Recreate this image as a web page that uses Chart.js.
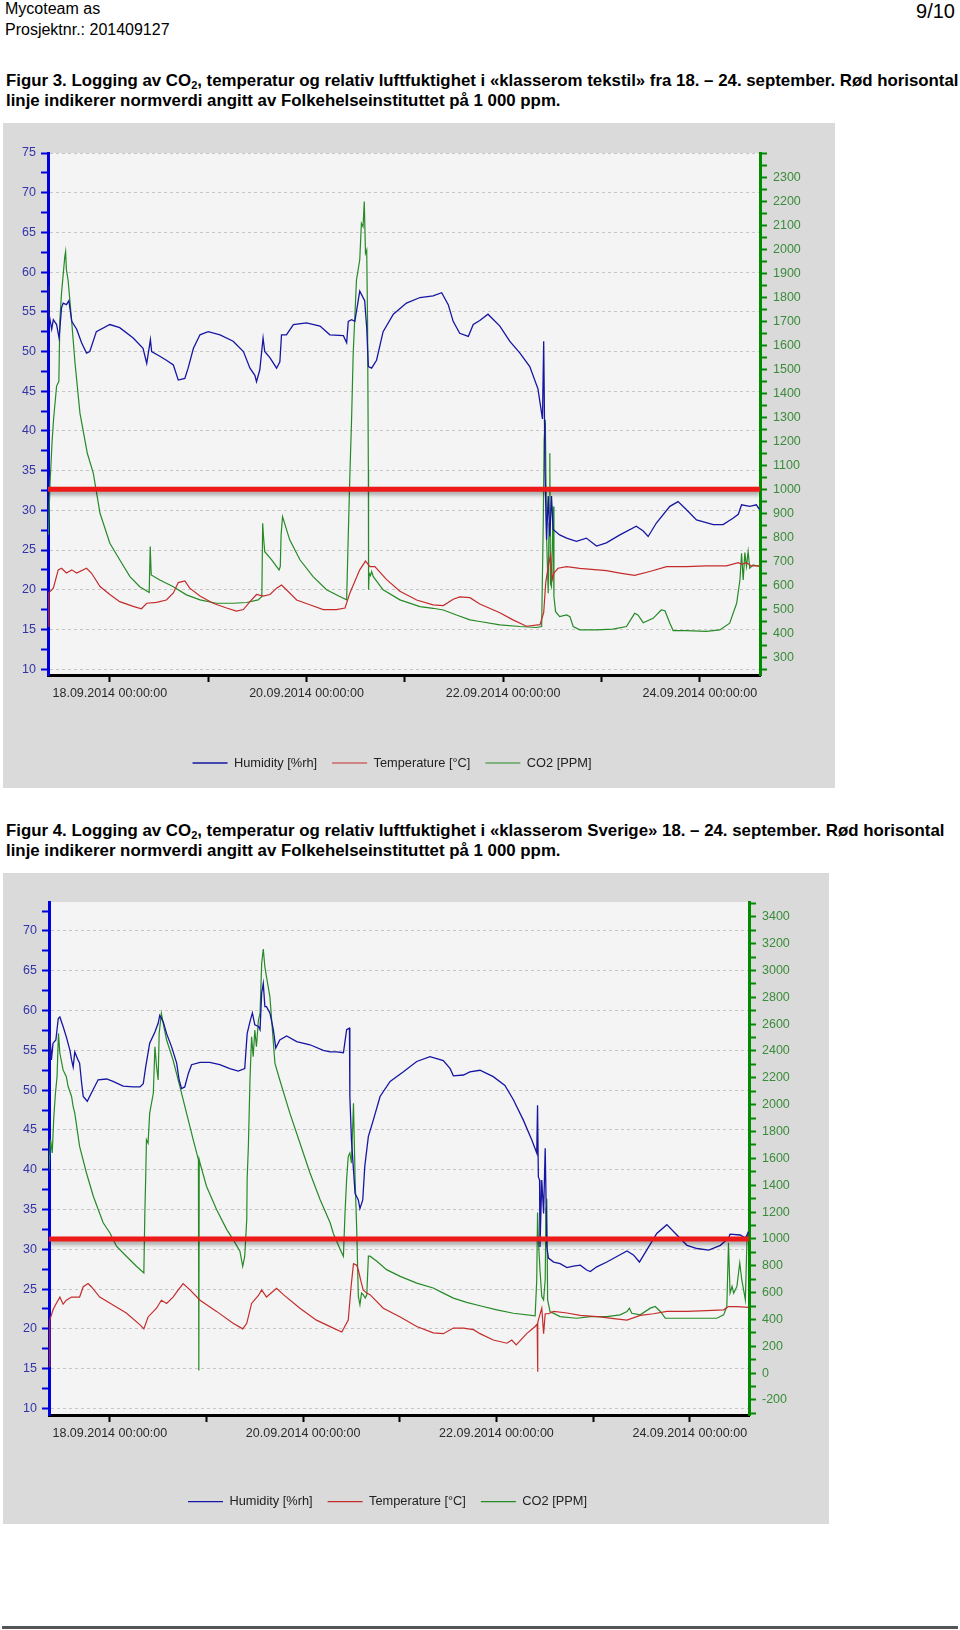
<!DOCTYPE html>
<html>
<head>
<meta charset="utf-8">
<script src="https://cdn.jsdelivr.net/npm/chart.js@4.4.0/dist/chart.umd.min.js"></script>
<style>
body { margin:0; width:960px; height:1630px; position:relative; background:#fff; font-family:"Liberation Sans", Arial, sans-serif; color:#000; }
.hdr { position:absolute; left:5px; font-size:16px; line-height:18px; white-space:nowrap; }
.pg { position:absolute; right:5px; top:0; font-size:20px; line-height:22px; }
.cap { position:absolute; left:6px; font-weight:bold; font-size:16.83px; line-height:20px; white-space:nowrap; }
.cap sub { font-size:11px; vertical-align:-3px; line-height:0; }
.box { position:absolute; left:3px; background:#dadada; }
.box canvas { display:block; }
.foot { position:absolute; left:2px; top:1626px; width:956px; height:3px; background:#555; }
</style>
</head>
<body>
<div class="hdr" style="top:0">Mycoteam as</div>
<div class="hdr" style="top:21px">Prosjektnr.: 201409127</div>
<div class="pg">9/10</div>

<div class="cap" style="top:71px">Figur 3. Logging av CO<sub>2</sub>, temperatur og relativ luftfuktighet i «klasserom tekstil» fra 18. – 24. september. Rød horisontal<br>linje indikerer normverdi angitt av Folkehelseinstituttet på 1 000 ppm.</div>
<div class="box" style="top:123px;width:832px;height:665px"><canvas id="chart1" width="832" height="665"></canvas></div>

<div class="cap" style="top:821px">Figur 4. Logging av CO<sub>2</sub>, temperatur og relativ luftfuktighet i «klasserom Sverige» 18. – 24. september. Rød horisontal<br>linje indikerer normverdi angitt av Folkehelseinstituttet på 1 000 ppm.</div>
<div class="box" style="top:873px;width:826px;height:651px"><canvas id="chart2" width="826" height="651"></canvas></div>

<div class="foot"></div>

<script>
// hours after 18.09.2014 00:00:00
const xMin = -15.1, xMax = 158.7;
const xTickHours = [0, 24, 48, 72, 96, 120, 144];
const xTickLabels = ['18.09.2014 00:00:00', '', '20.09.2014 00:00:00', '', '22.09.2014 00:00:00', '', '24.09.2014 00:00:00'];
const normPpm = 1000;

// Figur 3 - klasserom tekstil  [hour, value]
const c1Humidity = [[-15.1,58.3],[-14.9,54.9],[-14.2,52.8],[-13.8,54.0],[-13.0,53.4],[-12.4,51.7],[-11.8,55.5],[-11.4,56.1],[-10.6,55.9],[-10.0,56.4],[-9.3,53.8],[-8.1,52.8],[-6.9,51.1],[-5.7,49.8],[-4.9,50.0],[-3.3,52.5],[0,53.4],[2.4,53.0],[5.7,51.7],[8.1,50.4],[9.0,48.5],[9.9,51.5],[10.2,50.0],[12.2,49.4],[13.8,48.9],[15.5,48.3],[16.7,46.4],[18.3,46.6],[19.1,47.9],[20.4,50.4],[22.0,52.1],[24.0,52.5],[26.9,52.1],[30.1,51.3],[32.6,50.0],[34.2,47.9],[35.4,47.0],[35.8,46.2],[36.6,47.7],[37.4,51.7],[37.8,50.0],[39.1,49.2],[40.7,47.9],[41.5,48.7],[41.9,52.1],[43.1,52.1],[44.8,53.4],[48.0,53.6],[51.3,53.2],[53.7,52.1],[57.0,52.0],[57.8,51.1],[58.2,53.8],[59.0,54.0],[59.8,53.8],[61.0,57.6],[62.2,56.4],[62.7,53.0],[63.1,48.1],[63.9,47.9],[65.1,48.9],[66.7,52.5],[69.2,54.7],[72.4,56.1],[75.7,56.8],[78.9,57.0],[81.0,57.4],[82.6,55.9],[83.8,53.8],[85.4,52.3],[87.5,51.9],[88.7,53.4],[90.3,53.9],[92.3,54.7],[95.2,53.2],[97.6,51.3],[100.1,49.8],[102.5,48.1],[104.5,45.3],[105.6,41.5],[105.9,51.3],[106.1,41.0],[106.2,35.3],[106.6,26.3],[107.0,31.8],[107.4,26.7],[107.8,31.8],[108.2,27.6],[109.8,26.9],[111.5,26.5],[113.9,26.1],[116.3,26.5],[118.8,25.5],[121.2,25.9],[124.5,26.9],[128.5,28.0],[130.2,27.4],[131.4,26.7],[133.4,28.4],[136.7,30.5],[138.7,31.1],[140.7,30.1],[143.2,28.8],[147.3,28.2],[149.7,28.2],[152.1,29.0],[153.4,29.5],[154.2,30.7],[156.2,30.5],[157.8,30.7],[158.6,30.1]];
const c1Temperature = [[-15.1,15.4],[-14.9,19.6],[-13.8,20.2],[-12.6,22.5],[-11.8,22.7],[-10.6,22.1],[-9.3,22.5],[-8.1,22.1],[-5.7,22.7],[-4.5,22.1],[-2.4,20.4],[0,19.4],[2.4,18.5],[5.7,17.9],[7.7,17.6],[9.0,18.3],[11.4,18.4],[13.8,18.7],[15.5,19.6],[16.7,20.9],[18.3,21.1],[19.5,20.2],[22.0,19.2],[25.2,18.3],[28.5,17.7],[30.9,17.3],[32.6,17.5],[34.2,18.5],[35.8,19.4],[37.4,19.2],[39.1,19.4],[40.7,20.2],[41.9,20.6],[43.1,20.0],[45.6,18.7],[48.8,18.1],[52.1,17.5],[55.3,17.5],[57.4,17.7],[58.6,19.6],[61.0,22.5],[62.4,23.6],[63.5,22.9],[64.7,22.9],[67.5,21.3],[70.8,19.8],[74.9,18.7],[78.9,18.1],[81.4,18.0],[83.8,18.8],[85.4,19.1],[87.9,19.0],[90.3,18.2],[95.2,17.1],[98.4,16.2],[101.7,15.4],[105.0,15.6],[105.9,17.1],[106.4,20.9],[107.0,22.9],[107.6,24.4],[108.0,21.3],[108.4,22.1],[109.4,22.7],[111.5,22.9],[114.7,22.7],[121.2,22.4],[124.5,22.1],[128.1,21.8],[131.8,22.3],[135.9,22.9],[140.7,22.9],[145.6,23.0],[150.5,23.0],[153.4,23.4],[154.2,23.2],[155.4,23.4],[156.6,23.0],[158.6,23.0]];
const c1Co2 = [[-15.0,810],[-14.6,1025],[-14.1,1200],[-13.7,1300],[-13.0,1430],[-12.45,1450],[-12.2,1706],[-11.8,1817],[-11.0,1969],[-10.8,1990],[-10.6,1914],[-10.2,1872],[-9.35,1706],[-8.5,1525],[-7.3,1317],[-5.5,1150],[-4.05,1067],[-2.4,900],[0,775],[2.4,706],[4.9,636],[7.3,594],[9.6,570],[9.85,761],[10.1,643],[12.2,622],[15.5,594],[18.7,560],[22.0,539],[26.0,525],[30.1,525],[33.4,528],[36.2,539],[37.1,553],[37.3,858],[37.5,803],[37.8,740],[39.5,706],[41.3,664],[41.6,678],[41.8,810],[42.15,886],[43.9,789],[46.4,706],[49.6,636],[52.9,581],[56.1,553],[57.8,539],[58.2,810],[58.6,1067],[59.0,1289],[59.4,1567],[60.2,1872],[61.0,1956],[61.4,2108],[61.8,2094],[62.1,2199],[62.4,1983],[62.7,1997],[62.9,1706],[63.1,1080],[63.15,581],[63.3,650],[63.6,640],[63.9,657],[64.3,636],[66.7,581],[70.8,539],[75.7,511],[78.9,504],[81.4,497],[84.6,476],[87.9,456],[90.3,449],[95.2,435],[100.1,428],[104.1,424],[105.4,428],[105.8,865],[106.0,1205],[106.3,1289],[106.6,803],[107.0,567],[107.2,858],[107.4,1150],[107.55,608],[107.8,594],[108.2,928],[108.4,553],[108.8,490],[109.8,469],[111.5,476],[112.3,469],[113.1,428],[114.7,414],[118.8,414],[122.8,417],[126.1,428],[128.1,483],[128.9,476],[130.2,444],[132.6,462],[134.6,497],[135.5,494],[136.7,442],[137.5,411],[140.7,411],[145.6,408],[148.9,414],[151.3,442],[153.0,525],[153.8,622],[154.2,733],[154.6,622],[155.0,736],[155.4,678],[155.8,740],[156.2,671],[157.0,685],[158.6,678]];

// Figur 4 - klasserom Sverige  [hour, value]
const c2Humidity = [[-15.1,54.2],[-14.9,57.1],[-14.5,53.8],[-14.1,55.9],[-13.4,56.3],[-12.8,59.0],[-12.4,59.2],[-11.6,58.0],[-10.8,56.7],[-9.9,55.0],[-9.5,53.8],[-9.1,52.9],[-8.7,54.8],[-7.9,53.8],[-7.5,53.4],[-7.0,50.9],[-6.6,49.2],[-5.6,48.6],[-4.6,49.6],[-2.9,51.3],[-0.8,51.4],[0.8,51.1],[3.3,50.5],[5.8,50.4],[7.5,50.4],[8.3,50.8],[8.9,52.9],[9.9,55.9],[11.2,57.3],[12.0,58.4],[12.4,59.4],[13.25,58.6],[14.1,57.1],[15.3,55.5],[16.6,53.4],[17.2,51.3],[17.8,50.2],[18.6,50.4],[19.5,52.1],[20.3,53.2],[22.4,53.5],[24.8,53.5],[27.3,53.2],[29.8,52.7],[31.9,52.4],[33.5,52.7],[34.1,57.1],[34.8,58.6],[35.4,59.7],[36.0,58.2],[36.9,58.0],[37.3,57.6],[37.7,62.2],[38.1,63.4],[38.5,60.5],[38.9,60.5],[39.75,59.7],[40.6,57.6],[41.2,55.3],[42.2,56.3],[43.9,56.8],[46.4,56.1],[49.7,55.7],[53.0,55.0],[54.7,54.8],[56.3,54.8],[58.0,54.7],[58.8,57.6],[59.5,57.8],[59.6,49.2],[60.0,43.7],[60.5,40.0],[60.9,37.0],[61.7,36.2],[62.1,35.1],[62.8,36.2],[63.3,40.4],[64.2,44.2],[65.4,46.2],[67.1,49.2],[69.6,51.1],[72.9,52.3],[76.2,53.6],[79.5,54.2],[82.8,53.7],[84.5,52.7],[85.3,51.8],[87.8,51.9],[89.4,52.3],[91.9,52.5],[95.2,51.7],[98.1,50.6],[100.2,48.8],[102.7,46.2],[104.8,43.7],[106.0,42.1],[106.2,48.1],[106.4,39.1],[106.7,38.7],[106.8,30.3],[107.25,38.7],[107.7,34.5],[108.1,42.7],[108.5,30.3],[108.9,28.9],[110.2,28.4],[111.8,28.2],[113.5,27.7],[115.1,27.9],[116.8,28.0],[118.4,27.4],[119.3,27.2],[120.9,27.8],[123.4,28.4],[125.9,29.1],[128.4,29.8],[130.0,29.3],[131.5,28.4],[133.3,29.9],[135.8,32.0],[138.3,33.1],[140.8,31.8],[143.3,30.5],[145.8,30.1],[148.7,29.9],[151.6,30.5],[153.6,31.4],[154.0,31.9],[156.5,31.8],[157.8,31.4],[158.6,32.2]];
const c2Temperature = [[-15.1,15.3],[-14.9,21.1],[-14.1,22.4],[-13.3,23.2],[-12.4,24.0],[-11.6,23.1],[-10.8,23.6],[-9.5,24.0],[-7.5,24.0],[-6.6,25.3],[-5.4,25.7],[-4.6,25.3],[-2.5,24.0],[0.8,23.0],[4.1,22.0],[7.5,20.5],[8.45,20.0],[9.5,21.5],[11.6,22.6],[12.8,23.6],[14.1,23.2],[15.7,24.0],[17.0,24.9],[18.2,25.7],[19.9,24.9],[22.4,23.6],[26.5,22.2],[30.6,20.7],[33.0,20.0],[34.0,20.7],[35.2,23.2],[36.9,24.2],[37.7,24.9],[38.9,24.0],[41.4,25.1],[43.1,24.3],[47.2,22.6],[51.3,21.1],[55.5,20.1],[57.6,19.6],[59.2,21.1],[59.9,25.3],[60.5,28.2],[61.3,28.0],[61.7,27.4],[62.3,26.1],[62.9,24.9],[63.8,24.5],[64.6,24.3],[67.9,22.6],[72.1,21.5],[76.2,20.3],[80.3,19.5],[82.8,19.4],[85.3,20.1],[87.8,20.1],[90.3,19.9],[91.9,19.4],[95.2,18.6],[98.6,18.2],[99.8,18.6],[100.9,18.0],[103.5,19.4],[105.6,20.3],[106.1,20.6],[106.2,14.6],[106.3,20.8],[106.4,21.1],[107.25,22.6],[107.7,19.4],[108.1,21.9],[108.9,21.9],[110.2,22.2],[113.5,22.0],[116.8,21.7],[121.7,21.5],[125.1,21.3],[128.4,21.1],[131.7,21.7],[135.0,21.9],[138.3,22.2],[143.3,22.2],[148.2,22.3],[152.4,22.4],[153.6,22.8],[155.7,22.8],[158.6,22.7]];
const c2Co2 = [[-15.15,1500],[-14.7,1740],[-14.3,1640],[-13.9,1912],[-13.5,2085],[-13.1,2209],[-12.75,2531],[-12.4,2383],[-11.6,2259],[-10.8,2209],[-10.35,2135],[-9.5,2061],[-9.1,1986],[-8.7,1937],[-7.5,1689],[-5.8,1491],[-4.1,1318],[-1.65,1120],[0,1046],[1.65,946],[4.1,871],[6.6,796],[8.45,746],[8.7,1196],[8.9,1446],[9.1,1739],[9.5,1714],[9.9,1937],[10.8,2085],[11.2,2432],[11.6,2284],[12.0,2184],[12.25,2531],[12.8,2680],[13.25,2605],[14.1,2482],[15.7,2333],[17.4,2135],[19.05,1937],[20.7,1739],[22.0,1590],[22.1,20],[22.2,1590],[22.4,1565],[24.0,1392],[26.5,1219],[29.0,1071],[30.6,996],[32.3,909],[33.0,796],[33.5,871],[34.0,1146],[34.1,1446],[34.4,1689],[34.8,2184],[35.2,2506],[35.6,2358],[36.0,2556],[36.4,2432],[36.9,2630],[37.3,2680],[37.7,3051],[38.1,3160],[38.5,3026],[38.9,2952],[39.75,2803],[41.0,2308],[42.2,2184],[44.7,1937],[47.2,1714],[49.7,1491],[52.2,1293],[54.7,1120],[55.5,1040],[57.2,921],[58.0,871],[58.4,1196],[58.8,1446],[59.2,1615],[59.6,1640],[60.0,1565],[60.5,2011],[60.9,1442],[61.3,1071],[61.7,571],[62.1,509],[62.5,596],[62.9,584],[63.4,559],[63.8,584],[64.2,871],[64.6,871],[66.3,834],[68.7,771],[72.1,721],[76.2,671],[80.3,634],[82.8,596],[85.3,559],[88.6,527],[91.9,502],[96.1,471],[100.2,446],[105.6,426],[106.0,696],[106.2,1196],[106.4,996],[106.8,771],[107.25,571],[107.7,546],[108.1,696],[108.3,1231],[108.5,1300],[108.7,546],[109.3,459],[111.8,421],[115.9,409],[119.3,421],[123.4,421],[126.7,434],[128.4,459],[129.0,484],[129.6,446],[131.7,434],[134.2,484],[135.4,496],[136.7,459],[137.9,409],[141.6,409],[145.8,409],[150.7,409],[152.4,434],[153.2,496],[153.6,971],[154.0,596],[154.5,646],[154.9,596],[155.7,646],[156.4,821],[156.9,696],[157.8,546],[158.2,996],[158.6,1071]];

Chart.defaults.font.family = '"Liberation Sans", Arial, sans-serif';
Chart.defaults.font.size = 12.5;
Chart.defaults.animation = false;

function range(a, b, step) {
  const out = [];
  for (let v = a; v <= b + 1e-9; v += step) out.push(Math.round(v * 10) / 10);
  return out;
}

function series(label, pairs, axis, color, width) {
  return {
    label: label,
    data: pairs.map(p => ({ x: p[0], y: p[1] })),
    yAxisID: axis,
    borderColor: color,
    backgroundColor: color,
    borderWidth: width,
    pointRadius: 0,
    tension: 0,
    fill: false
  };
}

// light plot background
const plotBg = {
  id: 'plotBg',
  beforeDraw(chart) {
    const { ctx, chartArea: a } = chart;
    ctx.save();
    ctx.fillStyle = '#f4f4f4';
    ctx.fillRect(a.left, a.top, a.right - a.left, a.bottom - a.top);
    ctx.restore();
  }
};

// soft shadow under the red norm line
const normShadow = {
  id: 'normShadow',
  beforeDatasetDraw(chart, args) {
    if (args.index !== 0) return;
    const ctx = chart.ctx;
    ctx.save();
    ctx.shadowColor = 'rgba(0,0,0,0.35)';
    ctx.shadowBlur = 4;
    ctx.shadowOffsetY = 3;
  },
  afterDatasetDraw(chart, args) {
    if (args.index !== 0) return;
    chart.ctx.restore();
  }
};

// legend sits a bit left of the box centre, as in the original export
const legendShift = {
  id: 'legendShift',
  afterLayout(chart, args, opts) {
    if (!chart.legend) return;
    chart.legend.left += opts.dx;
    chart.legend.right += opts.dx;
  }
};

function makeChart(id, o) {
  return new Chart(document.getElementById(id), {
    type: 'line',
    data: {
      datasets: [
        { label: 'norm', data: [{ x: xMin, y: normPpm }, { x: xMax, y: normPpm }], yAxisID: 'yC',
          borderColor: '#ee1a1a', borderWidth: 5, pointRadius: 0 },
        series('Humidity [%rh]', o.hum, 'yH', '#1616a2', 1.3),
        series('Temperature [°C]', o.temp, 'yH', '#c42c2c', 1.2),
        series('CO2 [PPM]', o.co2, 'yC', '#268a26', 1.2)
      ]
    },
    options: {
      responsive: false,
      devicePixelRatio: 1,
      layout: { padding: o.pad },
      plugins: {
        tooltip: { enabled: false },
        legendShift: { dx: o.legendDx },
        legend: {
          position: 'bottom',
          labels: {
            usePointStyle: true, pointStyle: 'line', pointStyleWidth: 35,
            padding: 15, color: '#222', font: { size: 12.8 },
            filter: item => item.datasetIndex !== 0
          }
        }
      },
      scales: {
        x: {
          type: 'linear', min: xMin, max: xMax,
          afterBuildTicks: s => { s.ticks = xTickHours.map(v => ({ value: v })); },
          afterFit: s => { s.height = o.xH; },
          ticks: { autoSkip: false, maxRotation: 0, padding: 4, color: '#2a2a2a',
                   callback: (v, i) => xTickLabels[i] },
          grid: { drawOnChartArea: false, tickLength: 7, tickWidth: 2, tickColor: '#000' },
          border: { color: '#000', width: 3 }
        },
        yH: {
          position: 'left', min: o.hMin, max: o.hMax,
          afterBuildTicks: s => { s.ticks = o.hTicks.map(v => ({ value: v })); },
          afterFit: s => { s.width = o.lW; },
          ticks: { autoSkip: false, padding: 5, color: '#3434a8',
                   callback: v => (v % 5 === 0 ? v : '') },
          grid: {
            color: c => (c.tick && c.tick.value % 5 === 0 ? '#c6c6c6' : 'rgba(0,0,0,0)'),
            lineWidth: 1, tickColor: '#0000dc', tickLength: 7, tickWidth: 2
          },
          border: { color: '#0000dc', width: 3, dash: [3, 3] }
        },
        yC: {
          position: 'right', min: o.cMin, max: o.cMax,
          afterBuildTicks: s => { s.ticks = o.cTicks.map(v => ({ value: v })); },
          afterFit: s => { s.width = o.rW; },
          ticks: { autoSkip: false, padding: 6, color: '#3a8c3a', callback: o.cLabel },
          grid: { drawOnChartArea: false, tickColor: '#008a00', tickLength: 7, tickWidth: 2 },
          border: { color: '#008a00', width: 3 }
        }
      }
    },
    plugins: [plotBg, normShadow, legendShift]
  });
}

makeChart('chart1', {
  hum: c1Humidity, temp: c1Temperature, co2: c1Co2,
  hMin: 9.26, hMax: 75, hTicks: range(10, 75, 2.5),
  cMin: 226, cMax: 2401, cTicks: range(250, 2400, 50),
  cLabel: v => (v % 100 === 0 && v >= 300 && v <= 2300 ? v : ''),
  pad: { top: 30, left: 0, right: 0, bottom: 8.6 },
  lW: 45, rW: 75, xH: 66.6, legendDx: -27
});

makeChart('chart2', {
  hum: c2Humidity, temp: c2Temperature, co2: c2Co2,
  hMin: 9.18, hMax: 73.64, hTicks: range(10, 72.5, 2.5),
  cMin: -312, cMax: 3510, cTicks: range(-300, 3500, 100),
  cLabel: v => (v % 200 === 0 && v >= -200 && v <= 3400 ? v : ''),
  pad: { top: 29, left: 0, right: 0, bottom: 5.9 },
  lW: 46, rW: 80, xH: 65.3, legendDx: -28.5
});
</script>
</body>
</html>
